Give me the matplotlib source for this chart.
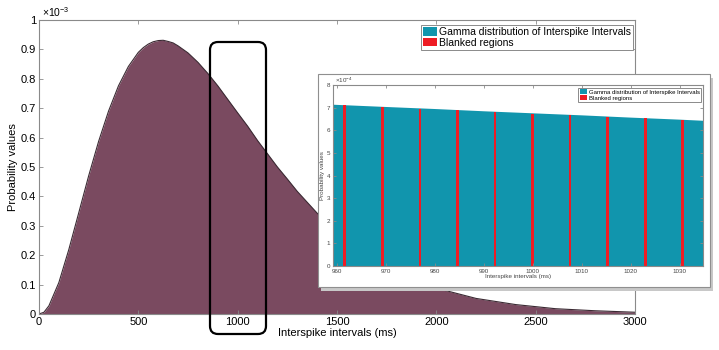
#!/usr/bin/env python
"""Gamma distribution of interspike intervals with a zoomed inset of blanked regions."""

import matplotlib

matplotlib.use("Agg")
import matplotlib.pyplot as plt
from matplotlib.patches import FancyBboxPatch, Patch, Rectangle
from matplotlib.ticker import FormatStrFormatter

# main panel: interspike interval (ms) vs probability (x 1e-3)
isi_ms = [0, 25, 50, 100, 150, 200, 250, 300, 350, 400, 450, 500, 525, 550,
          575, 600, 625, 650, 675, 700, 750, 800, 850, 900, 950, 1000, 1050,
          1100, 1150, 1200, 1250, 1300, 1350, 1400, 1500, 1600, 1700, 1800,
          1900, 2000, 2200, 2400, 2600, 2800, 3000]
prob_e3 = [0.0, 0.006, 0.028, 0.107, 0.219, 0.344, 0.470, 0.587, 0.690,
           0.776, 0.842, 0.890, 0.906, 0.918, 0.926, 0.930, 0.931, 0.927,
           0.922, 0.912, 0.888, 0.856, 0.818, 0.776, 0.730, 0.684, 0.639,
           0.590, 0.545, 0.500, 0.459, 0.417, 0.380, 0.343, 0.279, 0.225,
           0.180, 0.143, 0.112, 0.088, 0.053, 0.032, 0.018, 0.011, 0.006]

# inset: zoom on 960-1035 ms (probability x 1e-4)
zoom_ms = [959.2, 970, 980, 990, 1000, 1010, 1020, 1030, 1034.8]
zoom_prob_e4 = [7.15, 7.05, 6.96, 6.86, 6.77, 6.68, 6.58, 6.49, 6.44]
blank_ms = [961.6, 969.3, 977.0, 984.6, 992.3, 1000.0, 1007.6, 1015.3,
            1023.0, 1030.6]
blank_prob_e4 = [7.10, 7.02, 6.95, 6.88, 6.81, 6.73, 6.66, 6.59, 6.52, 6.45]

x_ticks = [0, 500, 1000, 1500, 2000, 2500, 3000]
y_ticks = [0, 0.1, 0.2, 0.3, 0.4, 0.5, 0.6, 0.7, 0.8, 0.9, 1.0]
zoom_x_ticks = [960, 970, 980, 990, 1000, 1010, 1020, 1030]
zoom_y_ticks = [0, 1, 2, 3, 4, 5, 6, 7, 8]

legend_labels = ["Gamma distribution of Interspike Intervals", "Blanked regions"]

TEAL = "#1195ad"
RED = "#ee1c24"
MAUVE = "#7a4a60"
SPINE = "#8a8a8a"

plt.rcParams["font.family"] = ["Liberation Sans", "DejaVu Sans"]
plt.rcParams["mathtext.fontset"] = "custom"
plt.rcParams["mathtext.rm"] = "Liberation Sans"
plt.rcParams["mathtext.it"] = "Liberation Sans:italic"


def _style_axes(ax, size, label_color="black"):
    for s in ax.spines.values():
        s.set_color(SPINE)
        s.set_linewidth(0.8)
    ax.tick_params(direction="in", top=True, right=True, length=3,
                   width=0.6, color=SPINE, labelsize=size, pad=2,
                   labelcolor=label_color)


def _legend(ax, size, anchor):
    handles = [Patch(facecolor=TEAL), Patch(facecolor=RED)]
    leg = ax.legend(handles, legend_labels, loc="upper right",
                    bbox_to_anchor=anchor, fontsize=size, fancybox=False,
                    framealpha=1, edgecolor=SPINE, handlelength=1.3,
                    handleheight=0.9, handletextpad=0.2, borderpad=0.2,
                    labelspacing=0.05, borderaxespad=0)
    leg.get_frame().set_linewidth(0.7)
    return leg


def main():
    fig = plt.figure(figsize=(7.19, 3.5), dpi=100)

    # main panel
    ax = fig.add_axes([39 / 719, 36 / 350, 596 / 719, 294 / 350])
    ax.set_zorder(0)
    ax.fill_between(isi_ms, prob_e3, color=MAUVE, lw=0)
    ax.plot(isi_ms, prob_e3, color="#3b2a33", lw=0.8)
    ax.set_xlim(0, 3000)
    ax.set_ylim(0, 1)
    ax.set_xticks(x_ticks)
    ax.set_yticks(y_ticks)
    ax.yaxis.set_major_formatter(FormatStrFormatter("%g"))
    _style_axes(ax, 8)
    ax.set_xlabel("Interspike intervals (ms)", fontsize=8, labelpad=1)
    ax.set_ylabel("Probability values", fontsize=8, labelpad=2)
    ax.text(0.005, 1.005, r"$\times10^{-3}$", transform=ax.transAxes,
            fontsize=7.5, ha="left", va="bottom")
    _legend(ax, 7.5, ((633 - 39) / 596, (314 - 25) / 294))

    # rounded box marking the zoomed window
    tr = fig.dpi_scale_trans
    box = FancyBboxPatch((2.10, 0.16), 0.56, 2.92,
                         boxstyle="round,pad=0,rounding_size=0.08",
                         transform=tr, fill=False, ec="black", lw=1.6,
                         zorder=1.5)
    fig.add_artist(box)

    # inset panel with shadow
    fig.add_artist(Rectangle((3.21, 0.59), 3.92, 2.13, transform=tr,
                             fc="#c8c8c8", ec="none", zorder=1))
    fig.add_artist(Rectangle((3.18, 0.63), 3.92, 2.13, transform=tr,
                             fc="white", ec="#8f8f8f", lw=0.8, zorder=1.1))

    ins = fig.add_axes([333 / 719, 84 / 350, 370 / 719, 181 / 350])
    ins.set_zorder(2)
    ins.fill_between(zoom_ms, zoom_prob_e4, color=TEAL, lw=0)
    ins.bar(blank_ms, blank_prob_e4, width=0.55, color=RED, lw=0)
    ins.set_xlim(959.2, 1034.8)
    ins.set_ylim(0, 8)
    ins.set_xticks(zoom_x_ticks)
    ins.set_yticks(zoom_y_ticks)
    _style_axes(ins, 4.5, label_color="#444444")
    ins.tick_params(length=2)
    ins.set_xlabel("Interspike intervals (ms)", fontsize=4.5, labelpad=0,
                   color="#444444")
    ins.set_ylabel("Probability values", fontsize=4.5, labelpad=1,
                   color="#444444")
    ins.text(0.005, 1.0, r"$\times10^{-4}$", transform=ins.transAxes,
             fontsize=4.5, ha="left", va="bottom", color="#444444")
    _legend(ins, 4.3, (0.994, 0.983))

    fig.savefig("out.png", dpi=100)


if __name__ == "__main__":
    main()
